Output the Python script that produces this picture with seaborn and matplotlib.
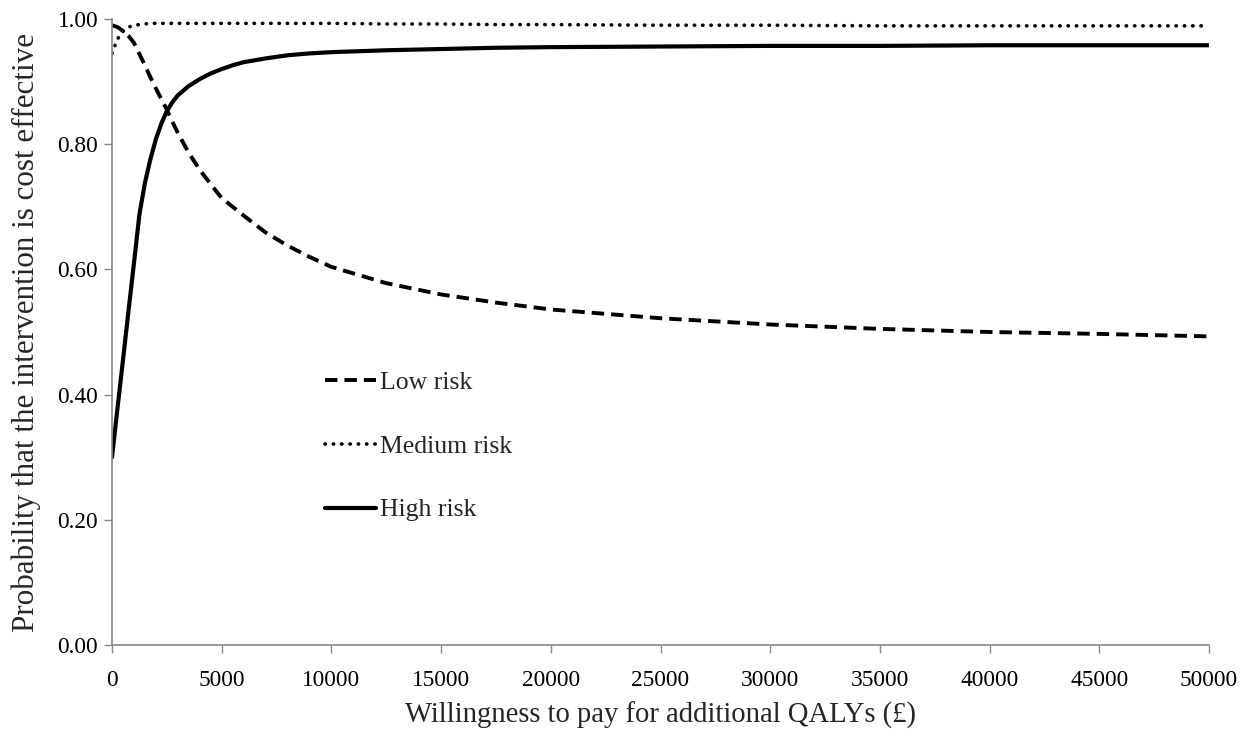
import pandas as pd
import matplotlib
matplotlib.use('Agg')
import matplotlib.pyplot as plt
import seaborn as sns

# willingness to pay (GBP) and probability
wtp = [0, 250, 500, 750, 1000, 1250, 1500, 1750, 2000, 2250, 2500, 2750, 3000,
       3500, 4000, 4500, 5000, 5500, 6000, 7000, 8000, 9000, 10000, 12500,
       15000, 17500, 20000, 25000, 30000, 35000, 40000, 45000, 50000]

low_risk = [0.990, 0.987, 0.981, 0.973, 0.962, 0.944, 0.926, 0.907, 0.889,
            0.872, 0.855, 0.836, 0.818, 0.786, 0.759, 0.736, 0.714, 0.700,
            0.686, 0.659, 0.638, 0.620, 0.604, 0.578, 0.560, 0.547, 0.536,
            0.522, 0.512, 0.505, 0.500, 0.497, 0.493]

medium_risk = [0.945, 0.968, 0.980, 0.987, 0.990, 0.991, 0.992, 0.993, 0.993,
               0.993, 0.993, 0.993, 0.993, 0.993, 0.993, 0.993, 0.993, 0.993,
               0.993, 0.993, 0.993, 0.993, 0.993, 0.992, 0.992, 0.991, 0.991,
               0.990, 0.990, 0.989, 0.989, 0.989, 0.989]

high_risk = [0.300, 0.378, 0.455, 0.533, 0.610, 0.688, 0.738, 0.776, 0.808,
             0.833, 0.853, 0.867, 0.878, 0.893, 0.904, 0.913, 0.920, 0.926,
             0.931, 0.937, 0.942, 0.945, 0.947, 0.950, 0.952, 0.954, 0.955,
             0.956, 0.957, 0.957, 0.958, 0.958, 0.958]

sns.set_style('white')
plt.rcParams['font.family'] = ['Liberation Serif', 'DejaVu Serif']

fig = plt.figure(figsize=(12.5, 7.44), dpi=100)
ax = fig.add_axes([0.0896, 0.133, 0.8776, 0.8415])

sns.lineplot(x=wtp, y=low_risk, color='black', lw=2.8,
             linestyle=(0, (3.2, 1.8)), label='Low risk', ax=ax)
sns.lineplot(x=wtp, y=medium_risk, color='black', lw=2.6,
             linestyle=(0, (0.1, 2.2)), dash_capstyle='round',
             label='Medium risk', ax=ax)
sns.lineplot(x=wtp, y=high_risk, color='black', lw=3.0,
             label='High risk', ax=ax)

ax.set_xlim(0, 50000)
ax.set_ylim(0, 1.0)
ax.set_xticks(range(0, 50001, 5000))
ax.set_yticks([0, 0.2, 0.4, 0.6, 0.8, 1.0])
ax.set_yticklabels([f'{v:.2f}' for v in [0, 0.2, 0.4, 0.6, 0.8, 1.0]])
ax.tick_params(axis='both', labelsize=16.8, colors='#888888', labelcolor='black',
               direction='out', length=6, width=1, left=True, bottom=True)
ax.tick_params(axis='x', pad=12)
ax.tick_params(axis='y', pad=4)

for side in ['top', 'right']:
    ax.spines[side].set_visible(False)
for side in ['left', 'bottom']:
    ax.spines[side].set_color('#888888')
    ax.spines[side].set_linewidth(1.2)

ax.set_xlabel('Willingness to pay for additional QALYs (£)', fontsize=20.6, labelpad=8)
ax.set_ylabel('Probability that the intervention is cost effective', fontsize=22.4, labelpad=12)

ax.legend(loc='upper left', bbox_to_anchor=(0.194, 0.438), frameon=False,
          fontsize=18.5, handlelength=2.0, handletextpad=0.15, labelspacing=1.59,
          borderpad=0, borderaxespad=0)

fig.savefig('out.png', dpi=100)
